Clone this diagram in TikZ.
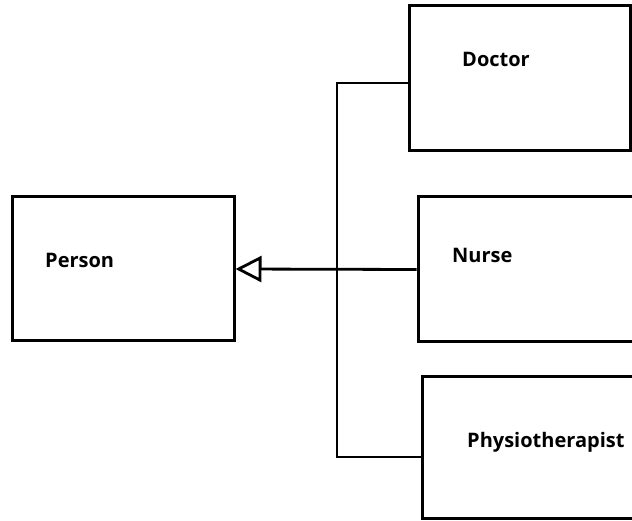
\documentclass[tikz,border=0pt]{standalone}
\usepackage{fontspec}
\setmainfont{Open Sans}
\usetikzlibrary{arrows.meta}
\begin{document}
\begin{tikzpicture}[x=1pt,y=-1pt,
  box/.style={draw=black,line width=3pt,fill=white,minimum width=#1,inner sep=0pt},
  lbl/.style={font=\fontsize{20}{22}\selectfont\bfseries,text=black,inner sep=0pt,anchor=base west},
  conn/.style={line width=2.8pt,draw=black}]
\useasboundingbox (0,0) rectangle (632,521);
\fill[white] (0,0) rectangle (632,521);
\clip (0,0) rectangle (632,521);
\node[box=222pt,minimum height=144pt] (person) at (123,269) {};
\node[box=221pt,minimum height=145pt] (doctor) at (519.5,78.5) {};
\node[box=222pt,minimum height=145pt] (nurse) at (529,269.5) {};
\node[box=222pt,minimum height=142pt] (physio) at (533,447) {};
\node[lbl] (tperson) at (45,268) {Person};
\node[lbl] (tdoctor) at (462,67) {Doctor};
\node[lbl] (tnurse) at (452,263) {Nurse};
\node[lbl] (tphysio) at (467,447) {Physiotherapist};
\coordinate (top) at (337,83);
\coordinate (bot) at (337,457);
\draw[conn] (top -| doctor.west) -- (top) -- (bot) -- (bot -| physio.west);
\draw[conn,-{Triangle[open,length=26pt,width=26pt,line width=2.8pt]}] (nurse.west) -- (person.east);
\end{tikzpicture}
\end{document}
